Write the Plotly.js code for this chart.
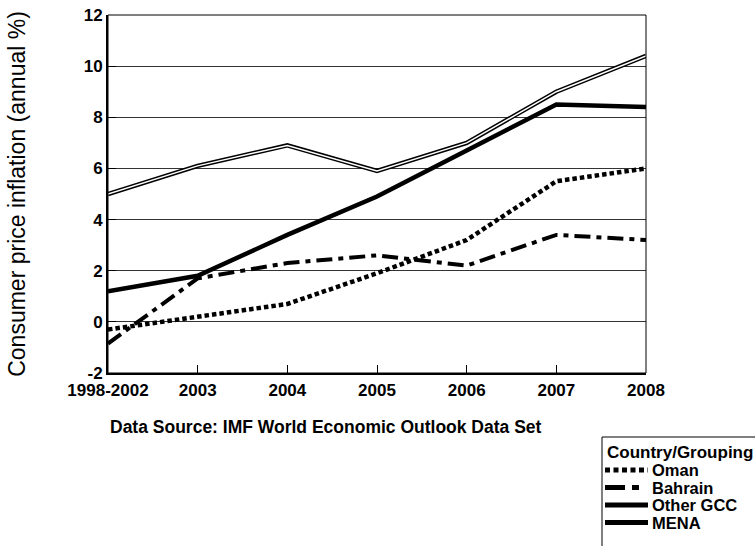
<!DOCTYPE html>
<html>
<head>
<meta charset="utf-8">
<script src="https://cdn.plot.ly/plotly-3.0.1.min.js"></script>
<style>html,body{margin:0;padding:0;background:#fff;}#chart{width:755px;height:546px;}</style>
</head>
<body>
<div id="chart"></div>
<script>
var categories = ["1998-2002", "2003", "2004", "2005", "2006", "2007", "2008"];
var oman = [-0.3, 0.2, 0.7, 1.9, 3.2, 5.5, 6.0];
var bahrain = [-0.85, 1.7, 2.3, 2.6, 2.2, 3.4, 3.2];
var otherGCC = [5.0, 6.1, 6.9, 5.9, 7.0, 9.0, 10.4];
var mena = [1.2, 1.8, 3.4, 4.9, 6.7, 8.5, 8.4];
var yTicks = [-2, 0, 2, 4, 6, 8, 10, 12];
var seriesNames = ["Oman", "Bahrain", "Other GCC", "MENA"];
var legendTitle = "Country/Grouping";
var sourceText = "Data Source: IMF World Economic Outlook Data Set";

var FONT = "Arial, 'Liberation Sans', sans-serif";
var W = 755, H = 546;
var M = {l: 108, r: 109, t: 15, b: 173};
var PW = W - M.l - M.r, PH = H - M.t - M.b;
function px(x) { return (x - M.l) / PW; }
function py(y) { return (H - M.b - y) / PH; }

var styles = [
  {color: "#000", width: 4.5, dash: "4.5px,3px"},
  {color: "#000", width: 4, dash: "16px,6px,5px,6px"},
  {color: "#000", width: 4.5},
  {color: "#000", width: 4.5}
];
var legendStyles = [
  {color: "#000", width: 5, dash: "5px,3.5px"},
  {color: "#000", width: 5, dash: "20px,7px,7px,20px"},
  {color: "#000", width: 5},
  {color: "#000", width: 5}
];

var traces = [
  {x: categories, y: oman, name: seriesNames[0], mode: "lines", type: "scatter", line: styles[0]},
  {x: categories, y: bahrain, name: seriesNames[1], mode: "lines", type: "scatter", line: styles[1]},
  {x: categories, y: otherGCC, name: seriesNames[2], mode: "lines", type: "scatter", line: styles[2]},
  {x: categories, y: otherGCC, name: seriesNames[2], mode: "lines", type: "scatter",
   line: {color: "#fff", width: 1.5}, hoverinfo: "skip"},
  {x: categories, y: mena, name: seriesNames[3], mode: "lines", type: "scatter", line: styles[3]}
];

// manual legend (box, samples, labels)
var shapes = [
  {type: "rect", xref: "paper", yref: "paper", x0: 0, x1: 1, y0: 0, y1: 1,
   line: {color: "#000", width: 1}, layer: "above"},
  {type: "rect", xref: "paper", yref: "paper", x0: px(602), x1: px(770), y0: py(437), y1: py(560),
   line: {color: "#000", width: 1}, fillcolor: "rgba(0,0,0,0)"}
];
var annotations = [
  {text: "<b>" + sourceText + "</b>", xref: "paper", yref: "paper",
   x: 0, y: py(427), xanchor: "left", yanchor: "middle", showarrow: false,
   font: {family: FONT, size: 17.5}},
  {text: "<b>" + legendTitle + "</b>", xref: "paper", yref: "paper",
   x: px(605), y: py(452), xanchor: "left", yanchor: "middle", showarrow: false,
   font: {family: FONT, size: 17}}
];
var rowY = [470, 487.5, 505, 522.5];
seriesNames.forEach(function (n, i) {
  shapes.push({type: "line", xref: "paper", yref: "paper",
    x0: px(605), x1: px(648), y0: py(rowY[i]), y1: py(rowY[i]),
    line: legendStyles[i]});
  annotations.push({text: "<b>" + n + "</b>", xref: "paper", yref: "paper",
    x: px(650), y: py(rowY[i]), xanchor: "left", yanchor: "middle", showarrow: false,
    font: {family: FONT, size: 16.5}});
});

var layout = {
  width: W, height: H,
  margin: {l: M.l, r: M.r, t: M.t, b: M.b, pad: 0, autoexpand: false},
  paper_bgcolor: "#fff", plot_bgcolor: "#fff",
  font: {family: FONT, color: "#000", size: 16},
  showlegend: false,
  xaxis: {
    type: "category", range: [0, 6], showgrid: false, zeroline: false,
    showline: true, linecolor: "#000", linewidth: 2,
    ticks: "inside", ticklen: 8, tickcolor: "#000", tickwidth: 1,
    tickfont: {family: FONT, size: 17, weight: "bold"}, ticklabelstandoff: 1,
    fixedrange: true
  },
  yaxis: {
    range: [-2, 12], tickvals: yTicks, ticktext: yTicks.map(String),
    showgrid: true, gridcolor: "#333", gridwidth: 1, zeroline: false,
    showline: true, linecolor: "#000", linewidth: 2,
    ticks: "inside", ticklen: 8, tickcolor: "#000", tickwidth: 1,
    tickfont: {family: FONT, size: 17, weight: "bold"},
    title: {text: "Consumer price inflation (annual %)", font: {family: FONT, size: 23}, standoff: 52},
    automargin: false, fixedrange: true
  },
  shapes: shapes,
  annotations: annotations
};

Plotly.newPlot("chart", traces, layout, {staticPlot: true, displayModeBar: false});
</script>
</body>
</html>
